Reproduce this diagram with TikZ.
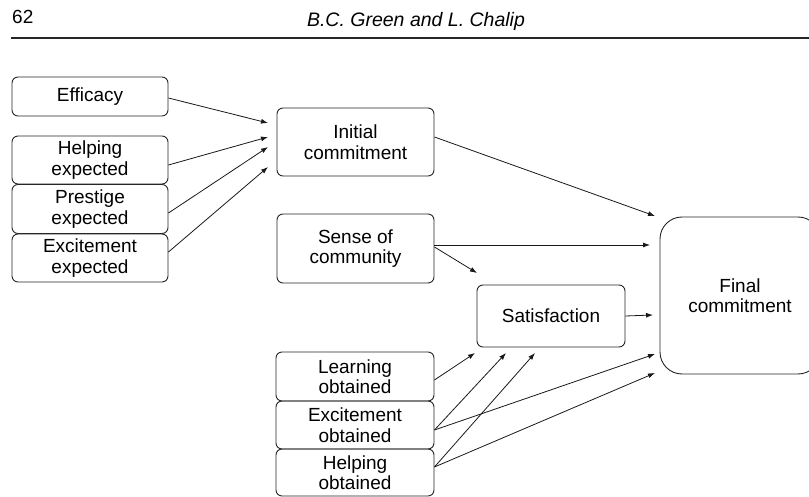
\documentclass[tikz,border=0pt]{standalone}
\usepackage{fontspec}
\setmainfont{Liberation Sans}
\usetikzlibrary{arrows.meta}
\begin{document}
\begin{tikzpicture}[x=1pt,y=-1pt,
  box/.style={draw=black!85, line width=0.9pt, rounded corners=6pt, align=center, inner sep=0pt,
    font=\fontsize{19}{20.5}\selectfont},
  leftbox/.style={box, minimum width=156pt, minimum height=48pt},
  midbox/.style={box, minimum width=157pt, minimum height=48pt},
  arr/.style={line width=0.8pt, draw=black!90, -{Latex[length=7pt,width=5pt]}}]
\useasboundingbox (0,0) rectangle (809,497);
% header
\node[anchor=base west, font=\fontsize{19}{20}\selectfont, inner sep=0pt] (pg) at (12,24) {62};
\node[anchor=base, font=\fontsize{19.5}{20}\selectfont\itshape, inner sep=0pt] (hd) at (416,27) {B.C. Green and L. Chalip};
\coordinate (rl) at (11,38);
\coordinate (rr) at (809,38);
\draw[line width=1.3pt, black!85] (rl) -- (rr);
% left column
\node[leftbox, minimum height=39pt] (eff) at (90,96.5) {Efficacy};
\node[leftbox] (hexp) at (90,160) {Helping\\expected};
\node[leftbox, minimum height=49pt] (pexp) at (90,209) {Prestige\\expected};
\node[leftbox] (eexp) at (90,258) {Excitement\\expected};
% middle column
\node[midbox, minimum height=68pt] (init) at (355.5,142) {Initial\\commitment};
\node[midbox, minimum height=69pt] (sense) at (355.5,248.5) {Sense of\\community};
\node[midbox, minimum width=158pt, minimum height=49pt] (lobt) at (355,376.5) {Learning\\obtained};
\node[midbox, minimum width=158pt] (eobt) at (355,425) {Excitement\\obtained};
\node[midbox, minimum width=158pt, minimum height=47pt] (hobt) at (355,472.5) {Helping\\obtained};
% satisfaction and final
\node[box, minimum width=148pt, minimum height=62pt] (sat) at (551,316) {Satisfaction};
\node[box, rounded corners=22pt, minimum width=160pt, minimum height=157pt] (fin) at (740,295.5) {Final\\commitment};
% arrow tips
\coordinate (ti1) at (268,123);
\coordinate (ti2) at (268,137);
\coordinate (ti3) at (268,147);
\coordinate (ti4) at (268,167);
\coordinate (tf1) at (655,216);
\coordinate (tf2) at (650,245);
\coordinate (tf3) at (653,315);
\coordinate (tf4) at (655,354);
\coordinate (tf5) at (655,373);
\coordinate (ts0) at (477,273);
\coordinate (ts1) at (475,353);
\coordinate (ts2) at (506,353);
\coordinate (ts3) at (535,353);
% arrows
\draw[arr] ([yshift=-1.5pt]eff.east) -- (ti1);
\draw[arr] ([yshift=-5pt]hexp.east) -- (ti2);
\draw[arr] ([yshift=-4pt]pexp.east) -- (ti3);
\draw[arr] ([yshift=6pt]eexp.east) -- (ti4);
\draw[arr] ([yshift=5pt]init.east) -- (tf1);
\draw[arr] ([yshift=3.5pt]sense.east) -- (tf2);
\draw[arr] ([yshift=1.5pt]sense.east) -- (ts0);
\draw[arr] (sat.east) -- (tf3);
\draw[arr] ([yshift=-3.5pt]lobt.east) -- (ts1);
\draw[arr] ([yshift=-5pt]eobt.east) -- (ts2);
\draw[arr] ([yshift=-5pt]eobt.east) -- (tf4);
\draw[arr] ([yshift=5.5pt]hobt.east) -- (ts3);
\draw[arr] ([yshift=5.5pt]hobt.east) -- (tf5);
\end{tikzpicture}
\end{document}
